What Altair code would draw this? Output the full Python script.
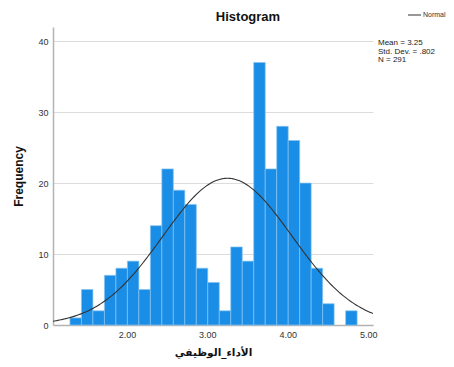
import altair as alt
import pandas as pd

# Histogram bins
bin_start = 1.291
bin_width = 1 / 7
counts = [1, 5, 2, 7, 8, 9, 5, 14, 22, 19, 17, 8, 6, 2, 11, 9, 37, 22, 28, 26, 20, 8, 3, 0, 2]

# Summary statistics shown in the chart
mean = 3.25
std_dev = 0.802
n = 291

x_ticks = [2, 3, 4, 5]
y_ticks = [0, 10, 20, 30, 40]
stats_text = "Mean = 3.25\nStd. Dev. = .802\nN = 291"
title_text = "Histogram"
legend_label = "Normal"

bars = pd.DataFrame({
    "lo": [bin_start + i * bin_width for i in range(len(counts))],
    "hi": [bin_start + (i + 1) * bin_width for i in range(len(counts))],
    "count": counts,
})
bars = bars[bars["count"] > 0]

X_DOM = [1.08, 5.06]
Y_DOM = [0, 42]
W, H = 320, 298

xscale = alt.Scale(domain=X_DOM, nice=False, zero=False)
yscale = alt.Scale(domain=Y_DOM, nice=False)

xaxis = alt.Axis(values=x_ticks, format=".2f", title="الأداء_الوظيفي", grid=False,
                 ticks=False, labelPadding=5, labelFontSize=9, labelColor="#333",
                 labelFont="Liberation Sans", domainColor="#b3b3b3", domainWidth=1.5,
                 titleFont="DejaVu Sans", titleFontSize=10.5, titleFontWeight="bold",
                 titleColor="#111", titleX=160, titleY=27, titleBaseline="middle",
                 titleAlign="center")
yaxis = alt.Axis(values=y_ticks, format="d", title="Frequency", grid=True,
                 gridColor="#dcdcdc", gridWidth=1, ticks=False, labelPadding=5,
                 labelFontSize=9, labelColor="#333", labelFont="Liberation Sans",
                 domainColor="#b3b3b3", domainWidth=1.5,
                 titleFont="Liberation Sans", titleFontSize=12, titleFontWeight="bold",
                 titleColor="#111", titleX=-35, titleY=149, titleAngle=-90,
                 titleAlign="center", titleBaseline="middle")

hist = alt.Chart(bars).mark_rect(color="#1a8de6", stroke="#86c4f1", strokeWidth=0.7).encode(
    x=alt.X("lo:Q", scale=xscale, axis=xaxis),
    x2="hi:Q",
    y=alt.Y("count:Q", scale=yscale, axis=yaxis),
    y2=alt.datum(0),
)

curve = alt.Chart(alt.sequence(X_DOM[0], X_DOM[1] + 0.001, 0.02, as_="x")).transform_calculate(
    y=f"{n} * {bin_width} / ({std_dev} * sqrt(2 * PI)) * exp(-0.5 * pow((datum.x - {mean}) / {std_dev}, 2))"
).mark_line(color="#333", strokeWidth=1.1, clip=True).encode(
    x=alt.X("x:Q", scale=xscale),
    y=alt.Y("y:Q", scale=yscale),
)

title = alt.Chart(pd.DataFrame({"t": [title_text]})).mark_text(
    align="center", baseline="middle", fontSize=13, font="Liberation Sans",
    fontWeight="bold", color="#111"
).encode(text="t:N", x=alt.value(195), y=alt.value(-10))

legend_line = alt.Chart(pd.DataFrame({"k": [0]})).mark_rule(color="#333", strokeWidth=1).encode(
    x=alt.value(355), x2=alt.value(368), y=alt.value(-12)
)
legend_text = alt.Chart(pd.DataFrame({"t": [legend_label]})).mark_text(
    align="left", baseline="middle", fontSize=7, font="Liberation Sans", color="#333"
).encode(text="t:N", x=alt.value(370), y=alt.value(-12))

stats = alt.Chart(pd.DataFrame({"t": [stats_text]})).mark_text(
    align="left", baseline="top", fontSize=8, font="Liberation Sans", color="#222",
    lineBreak="\n", lineHeight=8.5
).encode(text="t:N", x=alt.value(325), y=alt.value(12))

chart = alt.layer(hist, curve, title, legend_line, legend_text, stats).properties(
    width=W, height=H,
    autosize=alt.AutoSizeParams(type="none"),
    padding={"left": 45, "top": 19, "right": 73, "bottom": 34},
).configure_view(stroke=None)

chart.save("out.html", embed_options={"renderer": "svg", "actions": False})
